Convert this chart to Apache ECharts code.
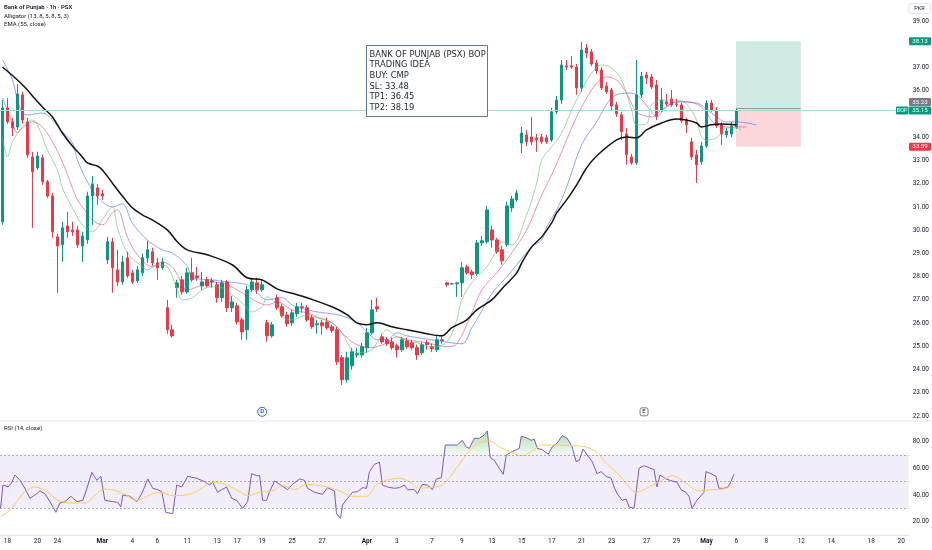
<!DOCTYPE html>
<html>
<head>
<meta charset="utf-8">
<script src="https://cdn.jsdelivr.net/npm/echarts@6/dist/echarts.min.js"></script>
<style>
  html, body { margin: 0; padding: 0; background: #fff; }
  #chart { width: 932px; height: 550px; }
</style>
</head>
<body>
<div id="chart"></div>
<script>
// candles, one per slot: [open, close, low, high]
const candles = [
  [30.36,35.26,30.23,35.60],[35.26,34.66,34.57,35.69],[34.66,34.40,34.05,34.83],[34.44,35.86,34.31,36.29],
  [35.82,34.74,34.57,35.95],[34.66,33.24,33.11,34.83],[33.15,32.51,30.10,33.37],[32.68,33.19,32.59,33.37],
  [33.11,32.08,31.95,33.24],[32.08,31.47,31.39,32.16],[31.47,29.93,29.67,31.60],[29.71,29.32,27.30,29.84],
  [29.37,30.10,28.63,30.36],[30.18,29.93,29.67,30.79],[30.01,29.93,29.75,30.36],[30.01,29.37,29.24,30.18],
  [29.32,29.75,28.63,29.93],[29.58,31.47,29.41,31.65],[31.47,31.99,30.23,32.33],[31.82,31.47,31.09,31.99],
  [31.56,31.47,31.30,31.73],[28.72,29.50,28.55,29.71],[29.50,28.38,27.30,29.67],[28.29,27.77,27.60,29.15],
  [27.77,28.63,27.65,28.89],[28.81,28.03,27.95,29.07],[28.16,27.77,27.69,28.29],[27.82,28.29,27.73,28.46],
  [28.16,28.81,28.03,28.98],[28.81,29.15,28.59,29.54],[29.07,28.59,28.46,29.24],[28.59,28.38,27.86,28.81],
  [28.38,28.63,28.29,28.81],[26.66,25.71,25.54,27.00],[25.71,25.45,25.37,25.93],[27.52,27.73,27.09,27.86],
  [27.86,27.34,27.22,28.03],[27.34,28.16,27.26,28.38],[28.16,27.86,27.77,28.81],[28.03,27.95,27.82,28.42],
  [27.60,27.77,27.43,28.20],[27.86,27.60,27.52,27.99],[27.77,27.82,27.52,27.95],[27.65,27.09,26.87,27.77],
  [27.09,27.73,26.91,27.86],[27.77,26.66,26.48,27.86],[26.66,26.91,26.48,27.17],[26.74,26.05,25.93,26.87],
  [26.14,25.62,25.28,26.23],[25.71,27.43,25.28,27.60],[27.43,27.77,27.34,27.95],[27.73,27.43,27.26,27.95],
  [27.43,27.65,27.34,27.86],[26.01,25.45,25.19,26.14],[25.45,25.93,25.37,26.05],[27.09,26.66,26.57,27.22],
  [26.70,26.31,26.23,26.83],[26.35,25.97,25.84,26.48],[26.01,26.44,25.88,26.57],[26.40,26.70,26.27,26.87],
  [26.70,26.66,26.44,26.87],[26.66,26.14,26.05,26.78],[26.23,25.84,25.75,26.35],[25.93,25.97,25.54,26.14],
  [26.01,25.88,25.50,26.14],[26.05,25.80,25.71,26.23],[25.84,25.67,25.58,25.93],[25.71,24.33,24.20,25.84],
  [24.51,23.56,23.34,24.63],[23.56,24.51,23.43,24.76],[24.16,24.76,23.99,24.94],[24.63,24.68,24.51,24.94],
  [24.63,24.98,24.51,25.15],[24.94,25.58,24.72,25.80],[25.58,26.57,25.50,27.00],[26.70,26.61,26.48,27.09],
  [25.41,25.19,25.11,25.54],[25.28,25.11,25.02,25.41],[25.19,24.94,24.85,25.37],[25.02,24.85,24.51,25.11],
  [24.85,25.28,24.76,25.41],[25.24,24.98,24.89,25.37],[25.15,24.94,24.85,25.28],[24.94,24.63,24.42,25.07],
  [24.72,25.07,24.63,25.19],[25.15,25.07,24.85,25.28],[24.98,24.89,24.76,25.11],[24.85,25.28,24.76,25.45],
  [25.28,25.24,25.11,25.45],[27.73,27.65,27.56,27.77],[27.69,27.69,27.65,27.73],[27.69,27.73,27.13,27.77],
  [27.73,28.38,27.13,28.63],[28.42,28.16,28.08,28.51],[28.20,28.08,27.90,28.29],[28.12,29.45,28.03,29.58],
  [29.45,29.54,29.32,29.75],[29.50,30.87,29.41,31.04],[30.01,29.58,29.24,30.18],[29.58,29.07,28.98,29.67],
  [29.15,28.68,28.51,29.32],[29.37,31.04,29.28,31.22],[30.96,31.34,30.79,31.47],[31.30,31.60,31.22,31.73],
  [33.75,34.18,33.32,34.44],[34.10,33.80,33.62,34.31],[34.01,33.80,33.67,34.87],[33.97,33.88,33.37,34.14],
  [34.01,33.80,33.71,34.14],[33.97,33.80,33.71,34.10],[33.88,35.09,33.80,35.26],[35.09,35.60,35.00,35.77],
  [35.60,37.11,35.43,37.32],[37.07,37.02,36.89,37.32],[37.07,37.02,36.94,37.49],[37.02,36.12,35.82,37.15],
  [36.12,37.75,35.95,38.10],[37.84,37.62,37.41,38.01],[37.67,37.15,37.06,37.80],[37.19,36.85,36.72,37.32],
  [36.89,36.12,36.03,37.02],[36.20,35.95,35.86,36.38],[36.03,35.34,35.17,36.12],[35.39,35.00,34.87,35.52],
  [34.96,34.23,33.88,35.09],[34.14,33.24,32.81,34.40],[33.15,32.89,32.81,33.28],[32.89,35.82,32.81,37.32],
  [35.82,36.63,35.69,36.81],[36.68,36.55,36.29,36.81],[36.59,36.16,36.08,36.72],[36.25,34.91,34.74,36.46],
  [35.17,35.60,35.09,36.12],[35.52,35.43,35.34,35.86],[35.65,35.39,35.30,36.03],[35.43,35.41,35.30,35.65],
  [35.39,34.70,34.61,35.47],[34.74,34.53,34.18,34.83],[33.80,33.15,33.02,33.97],[33.24,32.81,32.03,33.45],
  [32.94,33.62,32.81,33.80],[33.62,35.47,33.54,35.60],[35.47,35.17,35.09,35.60],[35.17,34.48,34.40,35.30],
  [34.53,34.14,33.67,34.66],[34.10,34.27,33.97,34.40],[34.14,34.48,34.01,34.66],[34.44,35.15,34.36,35.26]
];

// indicator lines: [slot, value]
const jaw = [[0,37.32],[2,36.46],[3,35.60],[4,35.04],[5,34.96],[8,35.04],[10,34.74],[12,34.23],[14,33.75],[15,33.02],
  [17,32.08],[19,31.43],[22,31.00],[24,31.13],[26,30.31],[29,29.58],[32,29.15],[34,29.02],[37,28.46],[38,27.95],
  [42,27.86],[45,27.77],[49,27.65],[51,27.30],[53,27.00],[56,27.09],[58,26.78],[61,26.57],[63,26.48],[67,26.36],
  [70,26.14],[72,25.84],[74,25.41],[75,25.28],[77,25.28],[79,25.58],[81,25.45],[86,25.28],[92,25.11],[94,25.80],
  [95,26.14],[98,27.26],[101,27.99],[103,28.51],[106,29.28],[108,29.58],[109,30.14],[111,30.87],[113,31.86],[116,33.67],
  [119,34.66],[122,35.69],[125,35.90],[127,35.82],[130,35.09],[131,34.87],[133,35.30],[135,35.52],[139,35.47],[142,35.04],
  [145,34.66],[147,34.66],[151,34.53]];
const teeth = [[0,35.69],[2,34.61],[3,34.18],[4,34.40],[6,34.66],[8,34.44],[10,33.80],[12,32.94],[14,31.82],[15,31.30],
  [16,31.00],[18,30.44],[20,30.23],[22,30.74],[23,30.87],[25,29.71],[27,28.94],[30,28.42],[32,28.63],[34,28.42],
  [35,28.08],[37,27.43],[40,27.65],[42,27.77],[45,27.65],[48,27.30],[51,26.91],[53,26.78],[55,26.91],[58,26.57],
  [61,26.44],[63,26.27],[66,26.01],[69,25.37],[71,25.07],[74,24.94],[75,24.98],[77,25.15],[79,25.41],[81,25.28],
  [85,25.15],[89,24.98],[91,25.11],[94,26.44],[96,27.43],[99,28.16],[102,29.02],[105,30.01],[108,31.52],[110,32.38],
  [112,33.37],[114,34.40],[116,35.30],[119,36.33],[121,36.59],[123,36.46],[125,35.90],[127,35.09],[130,34.87],[132,35.17],
  [135,35.52],[137,35.52],[140,35.30],[143,34.53],[146,34.44],[149,34.44]];
const lips = [[0,34.01],[1,33.15],[2,33.80],[4,34.44],[6,34.74],[7,34.53],[9,33.45],[11,32.59],[12,31.82],[14,30.96],
  [16,30.23],[18,29.93],[20,30.44],[22,31.00],[23,30.14],[25,29.02],[28,28.42],[29,28.29],[31,28.51],[33,28.42],
  [35,27.43],[36,27.00],[38,27.09],[40,27.43],[42,27.56],[44,27.52],[46,27.22],[48,26.87],[50,26.48],[52,26.70],
  [53,27.13],[55,26.78],[56,26.27],[58,26.14],[61,26.36],[63,26.23],[66,26.01],[68,25.58],[70,24.85],[72,24.72],
  [74,24.85],[75,25.15],[77,25.71],[79,25.41],[83,25.15],[86,24.98],[89,25.19],[91,26.14],[92,27.00],[94,27.73],
  [97,28.42],[99,29.15],[100,29.50],[102,29.37],[105,30.66],[107,32.03],[108,33.02],[110,33.58],[112,34.18],[114,35.17],
  [116,36.03],[118,36.76],[120,37.11],[122,36.98],[124,36.46],[126,35.17],[127,34.53],[129,34.57],[130,35.39],[132,35.60],
  [135,35.60],[137,35.43],[139,34.74],[140,34.01],[141,33.88],[143,33.97],[145,34.40],[147,34.40],[148,34.31]];
const ema55 = [[0,37.02],[3,36.46],[5,36.03],[6,35.77],[8,35.30],[10,34.87],[12,34.18],[14,33.62],[16,33.15],[17,32.89],
  [19,32.76],[20,32.59],[22,32.03],[24,31.47],[26,30.96],[28,30.66],[30,30.44],[33,30.01],[35,29.50],[37,29.15],
  [41,28.94],[46,28.51],[49,27.95],[52,27.86],[55,27.47],[59,27.22],[61,27.09],[66,26.70],[69,26.36],[71,26.01],
  [73,25.93],[75,26.01],[78,25.84],[81,25.71],[85,25.54],[88,25.45],[90,25.80],[93,26.14],[95,26.57],[98,27.00],
  [100,27.47],[103,28.16],[104,28.59],[106,29.28],[108,29.71],[110,30.31],[111,30.74],[113,31.30],[115,31.95],[117,32.68],
  [119,33.19],[123,33.88],[125,34.01],[127,33.97],[129,34.31],[132,34.61],[135,34.78],[137,34.74],[139,34.61],[140,34.44],
  [142,34.53],[144,34.57],[147,34.53]];

const rsi = [[-0.4,30],[0.1,47.5],[1.1,46],[1.8,49],[2.5,55],[3.5,51],[4.5,45],[5.5,37.5],[6.5,40],[7.5,43],[8.5,41],
  [9.5,35],[10.7,27],[11.5,34],[12.5,35],[13.7,39],[14.9,35],[16.1,36],[16.9,45],[17.9,57],[18.9,51],[19.7,54],
  [20.5,36],[22.1,35],[23.1,34.5],[23.7,31],[24.1,40],[25.5,39],[26.9,35],[27.9,41],[29.1,52],[30.1,45],[31.1,44],
  [31.9,42.5],[32.7,27],[34.1,26],[34.9,47.5],[35.9,46],[37.1,54],[38.9,52.5],[40.5,50],[41.5,47.5],[42.1,49.5],
  [43.1,42],[43.9,44],[44.9,46],[45.9,37.5],[46.9,36],[48.1,30],[49.1,35],[49.9,56],[50.9,54.5],[51.5,54.5],
  [52.1,36],[52.9,36],[53.5,42.5],[54.5,50.5],[55.9,47],[57.1,44],[58.1,48],[59.5,52],[60.5,51],[61.1,45],
  [62.5,42],[64.1,40.5],[65.1,45.5],[66.5,43],[66.9,26],[67.7,22.5],[68.1,32.5],[69.1,37.5],[70.1,42],[71.1,42.5],
  [72.1,45.5],[72.9,45],[73.5,57.5],[74.5,63],[75.5,64.5],[76.1,47.5],[77.1,46],[78.5,45],[79.5,45.5],[80.5,47.5],
  [81.1,44],[82.5,44],[83.1,41],[84.1,48],[85.1,47.5],[86.1,44],[86.9,52],[87.9,53],[88.7,77.5],[91.1,77.5],
  [92.1,81],[92.9,76],[93.5,75],[94.5,82.5],[95.5,82.5],[96.5,85],[97.1,88],[97.7,68],[98.5,66],[99.5,60],
  [100.3,55.5],[100.9,70],[102.1,72.5],[103.5,75],[103.9,84],[104.9,83],[105.9,81],[106.5,82],[107.1,75],[108.1,74],
  [109.3,70.5],[110.1,76],[111.1,79],[112.1,84.5],[113.1,82.5],[114.1,76],[114.9,65],[115.5,66],[116.3,74.5],[117.1,70],
  [118.1,65],[119.1,56],[119.9,57.5],[120.9,54],[121.9,52.5],[122.5,46],[123.1,41],[124.1,36],[124.9,37],[125.5,31],
  [126.5,30],[127.5,60],[128.5,62],[129.5,60.5],[130.5,59],[131.1,46],[131.7,55],[132.9,52],[134.1,50.5],[135.1,49.5],
  [135.9,44],[136.9,42],[137.5,39],[138.1,30],[139.1,36],[140.5,42],[140.9,57.5],[141.9,56],[142.9,54],[143.5,45],
  [144.5,45],[145.3,46],[145.9,50],[146.5,55.5]];
const rsiMa = [[-0.4,23.75],[1.9,30],[4.1,41],[6.5,46],[8.9,42.5],[11.1,36],[13.9,34],[16.5,34],[18.9,41],[20.5,44.5],
  [22.9,43],[24.5,40.5],[26.9,36],[29.5,40],[31.5,42],[34.1,39.5],[37.5,40.5],[39.5,44],[42.1,49.5],[44.9,47.5],
  [47.5,42.5],[49.1,39.5],[51.5,42],[54.1,43],[56.1,47],[58.5,44],[60.9,48],[63.5,47],[66.1,45],[68.1,42],
  [70.1,39],[72.9,39],[74.9,47.5],[76.9,51],[79.5,52.5],[81.5,50],[83.5,45],[86.1,46],[88.1,47.5],[90.9,60],
  [93.5,73],[95.5,79],[97.5,80.5],[99.5,76],[101.5,72.5],[104.1,69.5],[106.1,73],[108.1,77.5],[110.9,77.5],[114.1,77],
  [116.9,76],[118.9,72.5],[120.9,64],[123.5,55],[125.5,46],[126.9,42],[129.5,46],[132.1,51],[134.1,54.5],[136.9,48.75],
  [139.5,43],[142.1,44],[144.9,45],[146.5,49]];

// date labels on the time axis: slot index and text
const tickIdx = [1, 7, 11, 20, 26, 31, 37, 43, 47, 52, 58, 64, 73, 79, 86, 92, 98, 104, 110, 116, 122, 129, 135, 141, 147, 153, 160, 166, 174, 180];
const tickText = ['18', '20', '24', 'Mar', '4', '6', '11', '13', '17', '19', '25', '27', 'Apr', '3', '7', '9', '13', '15', '17', '21', '23', '27', '29', 'May', '6', '8', '12', '14', '18', '20'];

const slotCount = 182;
const tpPrice = 38.13, entryPrice = 35.23, lastPrice = 35.15, slPrice = 33.59;
const boxFrom = 146.9, boxTo = 159.9;
const ideaLines = ['BANK OF PUNJAB (PSX) BOP', 'TRADING IDEA', 'BUY: CMP', 'SL: 33.48', 'TP1: 36.45', 'TP2: 38.19'];

const UP = '#089981', DOWN = '#F23645', TXT = '#131722';
const FONT = 'Roboto, sans-serif';

const cats = [];
for (let i = 0; i < slotCount; i++) cats.push('s' + i);
const labelAt = {};
tickIdx.forEach(function (k, j) { labelAt[k] = tickText[j]; });

const chart = echarts.init(document.getElementById('chart'));

const option = {
  animation: false,
  backgroundColor: '#fff',
  grid: [
    { left: 0, right: 23, top: 21, height: 395 },
    { left: 0, right: 23, top: 428.3, height: 106.7 }
  ],
  xAxis: [
    { type: 'category', gridIndex: 0, data: cats, axisLine: { show: false }, axisTick: { show: false }, axisLabel: { show: false }, splitLine: { show: false } },
    { type: 'value', gridIndex: 0, min: -0.5, max: slotCount - 0.5, show: false },
    {
      type: 'category', gridIndex: 1, data: cats,
      axisLine: { show: true, lineStyle: { color: '#e0e3eb' } },
      axisTick: { show: false }, splitLine: { show: false },
      axisLabel: {
        margin: 3, fontSize: 6.5, color: TXT, fontFamily: FONT,
        interval: function (i) { return labelAt[i] !== undefined; },
        formatter: function (v, i) {
          const t = labelAt[i];
          if (t === undefined) return '';
          return /[A-Za-z]/.test(t) ? '{m|' + t + '}' : t;
        },
        rich: { m: { fontSize: 6.5, fontWeight: 'bold', color: TXT, fontFamily: FONT } }
      }
    },
    { type: 'value', gridIndex: 1, min: -0.5, max: slotCount - 0.5, show: false }
  ],
  yAxis: [
    {
      type: 'value', gridIndex: 0, position: 'right', min: 22, max: 39, interval: 1,
      axisLine: { show: false }, axisTick: { show: false }, splitLine: { show: false },
      axisLabel: {
        margin: 4, fontSize: 6.5, color: TXT, fontFamily: FONT,
        formatter: function (v) { return (v === 35 || v === 38) ? '' : v.toFixed(2); }
      }
    },
    {
      type: 'value', gridIndex: 1, position: 'right', min: 10, max: 90, interval: 10,
      axisLine: { show: false }, axisTick: { show: false }, splitLine: { show: false },
      axisLabel: {
        margin: 4, fontSize: 6.5, color: TXT, fontFamily: FONT,
        formatter: function (v) { return (v % 20 === 0 && v >= 20 && v <= 80) ? v.toFixed(2) : ''; }
      }
    }
  ],
  series: [
    {
      type: 'candlestick', xAxisIndex: 0, yAxisIndex: 0, data: candles, barWidth: 3,
      itemStyle: { color: UP, color0: DOWN, borderColor: UP, borderColor0: DOWN, borderWidth: 1 },
      markLine: {
        silent: true, symbol: ['none', 'none'], label: { show: false },
        lineStyle: { color: '#a6dcd3', width: 1, type: 'solid' },
        data: [{ yAxis: lastPrice }]
      }
    },
    {
      name: 'jaw', type: 'line', xAxisIndex: 1, yAxisIndex: 0, data: jaw, smooth: 0.35, showSymbol: false,
      lineStyle: { color: '#2962FF', width: 1, opacity: 0.55 },
      markArea: {
        silent: true,
        data: [
          [{ xAxis: boxFrom, yAxis: tpPrice, itemStyle: { color: 'rgba(8,153,129,0.2)' } }, { xAxis: boxTo, yAxis: entryPrice }],
          [{ xAxis: boxFrom, yAxis: entryPrice, itemStyle: { color: 'rgba(242,54,69,0.2)' } }, { xAxis: boxTo, yAxis: slPrice }]
        ]
      },
      markLine: {
        silent: true, symbol: ['none', 'none'], label: { show: false },
        lineStyle: { color: '#9598a1', width: 1, type: 'solid' },
        data: [[{ coord: [boxFrom, entryPrice] }, { coord: [boxTo, entryPrice] }]]
      },
      markPoint: {
        silent: true,
        data: [
          { coord: [52, 22.18], symbol: 'circle', symbolSize: 9,
            itemStyle: { color: '#fff', borderColor: '#2962FF', borderWidth: 1 },
            label: { show: true, position: 'inside', formatter: 'D', color: '#2962FF', fontSize: 6, fontWeight: 'bold', fontFamily: FONT } },
          { coord: [128.5, 22.18], symbol: 'roundRect', symbolSize: 8,
            itemStyle: { color: '#fff', borderColor: '#787b86', borderWidth: 1 },
            label: { show: true, position: 'inside', formatter: 'E', color: TXT, fontSize: 6, fontFamily: FONT } }
        ]
      }
    },
    { name: 'teeth', type: 'line', xAxisIndex: 1, yAxisIndex: 0, data: teeth, smooth: 0.35, showSymbol: false,
      lineStyle: { color: '#E91E63', width: 1, opacity: 0.5 } },
    { name: 'lips', type: 'line', xAxisIndex: 1, yAxisIndex: 0, data: lips, smooth: 0.35, showSymbol: false,
      lineStyle: { color: '#66BB6A', width: 1, opacity: 0.6 } },
    { name: 'ema', type: 'line', xAxisIndex: 1, yAxisIndex: 0, data: ema55, smooth: 0.35, showSymbol: false,
      lineStyle: { color: '#111', width: 1.5 } },
    { name: 'rsiFill', type: 'line', xAxisIndex: 3, yAxisIndex: 1, data: rsi, showSymbol: false, silent: true,
      lineStyle: { width: 0, opacity: 0 }, areaStyle: { origin: 70, opacity: 1, color: 'rgba(0,0,0,0)' } },
    {
      name: 'rsi', type: 'line', xAxisIndex: 3, yAxisIndex: 1, data: rsi, showSymbol: false,
      lineStyle: { color: '#7E57C2', width: 1 }, itemStyle: { color: '#7E57C2' },
      markArea: {
        silent: true,
        data: [[{ xAxis: -0.5, yAxis: 70, itemStyle: { color: 'rgba(126,87,194,0.1)' } }, { xAxis: slotCount - 0.5, yAxis: 30 }]]
      },
      markLine: {
        silent: true, symbol: ['none', 'none'], label: { show: false },
        lineStyle: { color: '#787B86', width: 1, type: [2, 2], opacity: 0.6 },
        data: [{ yAxis: 70 }, { yAxis: 50 }, { yAxis: 30 }]
      }
    },
    { name: 'rsiMa', type: 'line', xAxisIndex: 3, yAxisIndex: 1, data: rsiMa, smooth: 0.35, showSymbol: false,
      lineStyle: { color: '#F7CE5B', width: 1 } }
  ]
};

chart.setOption(option);

// overbought fill: green above the 70 level, clear below it (gradient placed in pixels)
const py90 = chart.convertToPixel({ yAxisIndex: 1 }, 90);
const py70 = chart.convertToPixel({ yAxisIndex: 1 }, 70);
chart.setOption({
  series: [{}, {}, {}, {}, {}, {
    areaStyle: {
      origin: 70, opacity: 1,
      color: {
        type: 'linear', global: true, x: 0, y: py90, x2: 0, y2: py70,
        colorStops: [
          { offset: 0, color: 'rgba(76,175,80,0.5)' },
          { offset: 0.995, color: 'rgba(76,175,80,0.06)' },
          { offset: 1, color: 'rgba(76,175,80,0)' }
        ]
      }
    }
  }]
});

// overlay texts and the price tags on the right scale
function yPix(v) { return chart.convertToPixel({ yAxisIndex: 0 }, v); }
function tag(v, y, bg, out) {
  out.push({ type: 'rect', z: 100, shape: { x: 909, y: y - 4, width: 22, height: 8, r: 1 }, style: { fill: bg } });
  out.push({ type: 'text', z: 101, x: 920, y: y, style: { text: v.toFixed(2), fill: '#fff', font: '6.2px ' + FONT, align: 'center', verticalAlign: 'middle' } });
}

const g = [];
g.push({ type: 'text', z: 100, x: 4, y: 7.5, style: { text: 'Bank of Punjab · 1h · PSX', fill: TXT, font: '600 6px ' + FONT, verticalAlign: 'middle' } });
g.push({ type: 'text', z: 100, x: 4, y: 16, style: { text: 'Alligator (13, 8, 5, 8, 5, 3)', fill: TXT, font: '6px ' + FONT, verticalAlign: 'middle' } });
g.push({ type: 'text', z: 100, x: 4, y: 24.5, style: { text: 'EMA (55, close)', fill: TXT, font: '6px ' + FONT, verticalAlign: 'middle' } });
g.push({ type: 'text', z: 100, x: 4, y: 428.5, style: { text: 'RSI (14, close)', fill: TXT, font: '6px ' + FONT, verticalAlign: 'middle' } });

g.push({ type: 'rect', z: 100, shape: { x: 909, y: 3.5, width: 21, height: 10, r: 2 }, style: { fill: '#fff', stroke: '#e0e3eb', lineWidth: 1 } });
g.push({ type: 'text', z: 101, x: 919.5, y: 8.5, style: { text: 'PKR', fill: TXT, font: '5.5px ' + FONT, align: 'center', verticalAlign: 'middle' } });

g.push({ type: 'line', z: 100, shape: { x1: 0, y1: 421, x2: 932, y2: 421 }, style: { stroke: '#e0e3eb', lineWidth: 1 } });

// idea note
g.push({ type: 'rect', z: 110, shape: { x: 366.5, y: 45.5, width: 121, height: 71 }, style: { fill: '#fff', stroke: '#5b7896', lineWidth: 1 } });
g.push({ type: 'text', z: 111, x: 369.5, y: 49, style: { text: ideaLines.join('\n'), fill: '#1c2533', font: '9.3px "DejaVu Sans Condensed", "DejaVu Sans", sans-serif', lineHeight: 10.6, verticalAlign: 'top' } });

// price tags
const lastY = yPix(lastPrice);
tag(tpPrice, yPix(tpPrice), UP, g);
tag(entryPrice, lastY - 8.5, '#787b86', g);
tag(lastPrice, lastY, UP, g);
tag(slPrice, yPix(slPrice), DOWN, g);
g.push({ type: 'rect', z: 100, shape: { x: 896, y: lastY - 4, width: 12.5, height: 8, r: 1 }, style: { fill: UP } });
g.push({ type: 'text', z: 101, x: 902.2, y: lastY, style: { text: 'BOP', fill: '#fff', font: '5.5px ' + FONT, align: 'center', verticalAlign: 'middle' } });

chart.setOption({ graphic: { elements: g } });
</script>
</body>
</html>
